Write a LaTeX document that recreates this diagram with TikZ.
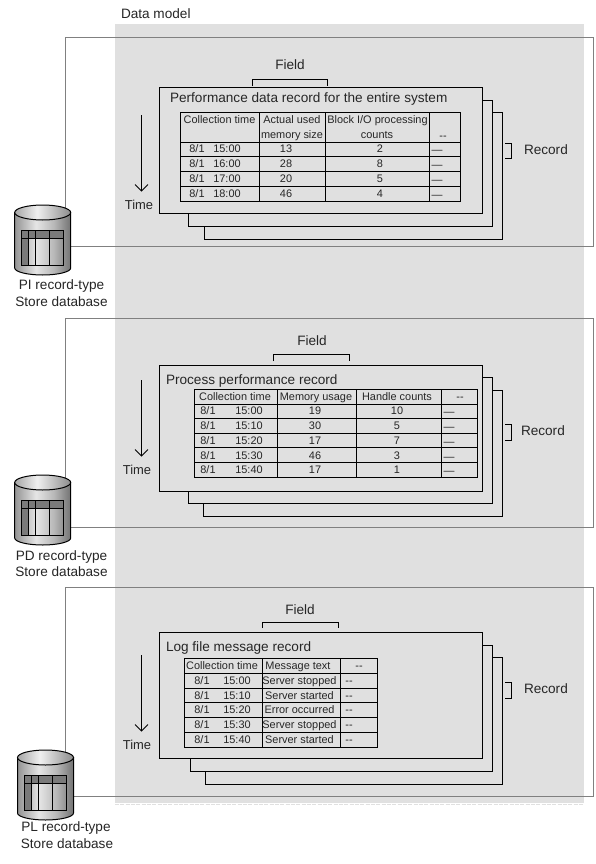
\documentclass[tikz,border=0pt]{standalone}
\usepackage{fontspec}
\setmainfont{Liberation Sans}
\pgfdeclarehorizontalshading{cylbody}{100bp}{color(0bp)=(black!42);color(25bp)=(black!42);color(44bp)=(black!10);color(60bp)=(black!28);color(75bp)=(black!55);color(100bp)=(black!55)}
\pgfdeclarehorizontalshading{cyltop}{100bp}{color(0bp)=(black!35);color(25bp)=(black!35);color(45bp)=(black!6);color(75bp)=(black!45);color(100bp)=(black!45)}
\newcounter{tc}
\newcommand\lbl[4][center]{\stepcounter{tc}\node[txt,yshift=-1pt,anchor=#1,font=#2] (n\thetc) at #3 {#4};}
\newcommand\cell[2]{\stepcounter{tc}\node[txt,yshift=-0.6pt,font=\smallfont] (n\thetc) at #1 {#2};}
\newcommand\smallfont{\fontsize{8.2pt}{9pt}\selectfont}
\newcommand\bigfont{\fontsize{10.2pt}{11pt}\selectfont}
\newcommand\timefont{\fontsize{9.7pt}{11pt}\selectfont}
\tikzset{
  x=0.75pt,y=-0.75pt,
  txt/.style={inner sep=0pt,outer sep=0pt,text=black!85,text height=0.72em,text depth=0.2em},
  frameline/.style={draw=black!50,line width=0.8pt},
  ink/.style={draw=black,line width=0.75pt},
  card/.style={ink,fill=panel},
}
\definecolor{panel}{HTML}{E0E0E0}
% #1 x left, #2 y top
\newcommand\cyl[2]{%
  \begin{scope}[shift={(#1,#2)}]
    \path[shading=cylbody,draw=black,line width=0.75pt] (0,7.5) -- (0,63) arc[start angle=180,end angle=0,x radius=28,y radius=7] -- (56,7.5) -- cycle;
    \path[shading=cyltop,draw=black,line width=0.75pt] (28,7.5) ellipse[x radius=28,y radius=7.5];
    \fill[black!52] (7,25) rectangle (49,33);
    \fill[black!52] (7,33) rectangle (14,60);
    \draw[ink] (7,25) rectangle (49,60);
    \draw[ink] (7,33) -- (49,33) (14,25) -- (14,60) (21,25) -- (21,60) (35,25) -- (35,60);
  \end{scope}}
% stack of cards: left2 left3 top1 top2 top3 bot1 bot2 bot3
\newcommand\stack[8]{%
  \draw[card] (#2,#5) rectangle (502.5,#8);
  \draw[card] (#1,#4) rectangle (492.5,#7);
  \draw[card] (159,#3) rectangle (482.7,#6);}
\begin{document}
\begin{tikzpicture}
\useasboundingbox (0,0) rectangle (596,864);
\fill[white] (0,0) rectangle (596,864);
\fill[panel] (115,24) rectangle (584,803);
\draw[panel,line width=0.75pt,dash pattern=on 3pt off 1pt] (115,804) -- (584,804);
\lbl[west]{\bigfont}{(121,14)}{Data model}

% frames
\draw[frameline] (65.5,230) -- (65.5,37.5) -- (593.5,37.5) -- (593.5,246.5) -- (65,246.5);
\draw[frameline] (65.5,500) -- (65.5,318.5) -- (593.5,318.5) -- (593.5,527.5) -- (65,527.5);
\draw[frameline] (65.5,770) -- (65.5,587.5) -- (593.5,587.5) -- (593.5,796.5) -- (65,796.5);

% ---------- PI
\stack{188.5}{204.5}{87.5}{100.5}{112.5}{213.5}{226.5}{239.5}
\draw[ink] (252.5,86) -- (252.5,79.5) -- (327.5,79.5) -- (327.5,86);
\lbl{\bigfont}{(290,65)}{Field}
\lbl[west]{\bigfont}{(170,98)}{Performance data record for the entire system}
\draw[ink] (505,143.5) -- (511,143.5) -- (511,158.5) -- (505,158.5);
\lbl[west]{\bigfont}{(524,150)}{Record}
\draw[ink,line width=0.7pt] (141.5,115) -- (141.5,191) (135,184.5) -- (141.5,191) -- (148,184.5);
\lbl{\timefont}{(139,205)}{Time}
\draw[ink] (180.5,112.5) rectangle (460.5,201.5);
\foreach \y in {142.5,156.5,171.5,186.5}{\draw[ink] (180.5,\y) -- (460.5,\y);}
\foreach \x in {259.5,325.5,429.5}{\draw[ink] (\x,112.5) -- (\x,201.5);}
\cell{(219.5,119)}{Collection time}
\cell{(292,119)}{Actual used}
\cell{(292,134)}{memory size}
\cell{(377.5,119)}{Block I/O processing}
\cell{(377,134)}{counts}
\cell{(443,135)}{-{}-}
\foreach \a/\b/\c/\d in {148/15:00/13/2,163/16:00/28/8,178/17:00/20/5,193/18:00/46/4}{
  \cell{(197,\a)}{8/1}\cell{(227,\a)}{\b}\cell{(286,\a)}{\c}\cell{(380,\a)}{\d}\cell{(437,\a+1)}{—}}
\cyl{14.7}{205}
\lbl{\bigfont}{(61.5,285)}{PI record-type}
\lbl{\bigfont}{(61.5,302)}{Store database}

% ---------- PD
\stack{188.5}{203.5}{365.5}{377.5}{390.5}{491.5}{503.5}{516.5}
\draw[ink] (273.5,361) -- (273.5,354.5) -- (349.5,354.5) -- (349.5,361);
\lbl{\bigfont}{(312,341)}{Field}
\lbl[west]{\bigfont}{(166,380)}{Process performance record}
\draw[ink] (505,424.5) -- (511,424.5) -- (511,440.5) -- (505,440.5);
\lbl[west]{\bigfont}{(521,431)}{Record}
\draw[ink,line width=0.7pt] (141.5,380) -- (141.5,456) (135,449.5) -- (141.5,456) -- (148,449.5);
\lbl{\timefont}{(137,470)}{Time}
\draw[ink] (194.5,389.5) rectangle (477.5,477.5);
\foreach \y in {404.5,418.5,433.5,447.5,462.5}{\draw[ink] (194.5,\y) -- (477.5,\y);}
\foreach \x in {277.5,356.5,441.5}{\draw[ink] (\x,389.5) -- (\x,477.5);}
\cell{(235,396)}{Collection time}
\cell{(316,396)}{Memory usage}
\cell{(397,396)}{Handle counts}
\cell{(460,396.5)}{-{}-}
\foreach \a/\b/\c/\d in {410/15:00/19/10,425/15:10/30/5,440/15:20/17/7,455/15:30/46/3,469/15:40/17/1}{
  \cell{(208,\a)}{8/1}\cell{(249,\a)}{\b}\cell{(315,\a)}{\c}\cell{(397,\a)}{\d}\cell{(449,\a+1)}{—}}
\cyl{14.7}{475}
\lbl{\bigfont}{(61.5,555.5)}{PD record-type}
\lbl{\bigfont}{(61.5,572)}{Store database}

% ---------- PL
\stack{190.5}{205.5}{632.5}{645.5}{657.5}{758.5}{771.5}{784.5}
\draw[ink] (262.5,628) -- (262.5,622.5) -- (338.5,622.5) -- (338.5,628);
\lbl{\bigfont}{(300,610)}{Field}
\lbl[west]{\bigfont}{(166,647)}{Log file message record}
\draw[ink] (505,682.5) -- (511,682.5) -- (511,698.5) -- (505,698.5);
\lbl[west]{\bigfont}{(524,689)}{Record}
\draw[ink,line width=0.7pt] (141.5,655) -- (141.5,731) (135,724.5) -- (141.5,731) -- (148,724.5);
\lbl{\timefont}{(137,745)}{Time}
\draw[ink] (184.5,658.5) rectangle (377.5,747.5);
\foreach \y in {673.5,688.5,702.5,717.5,732.5}{\draw[ink] (184.5,\y) -- (377.5,\y);}
\foreach \x in {262.5,340.5}{\draw[ink] (\x,658.5) -- (\x,747.5);}
\cell{(222,665)}{Collection time}
\cell{(298,665)}{Message text}
\cell{(359,665.5)}{-{}-}
\foreach \a/\b/\c in {680/15:00/Server stopped,695/15:10/Server started,709.5/15:20/Error occurred,724/15:30/Server stopped,739/15:40/Server started}{
  \cell{(202,\a)}{8/1}\cell{(237,\a)}{\b}\cell{(299.5,\a)}{\c}\cell{(349,\a)}{-{}-}}
\cyl{17.5}{750}
\lbl{\bigfont}{(66,827)}{PL record-type}
\lbl{\bigfont}{(67,844)}{Store database}
\end{tikzpicture}
\end{document}
